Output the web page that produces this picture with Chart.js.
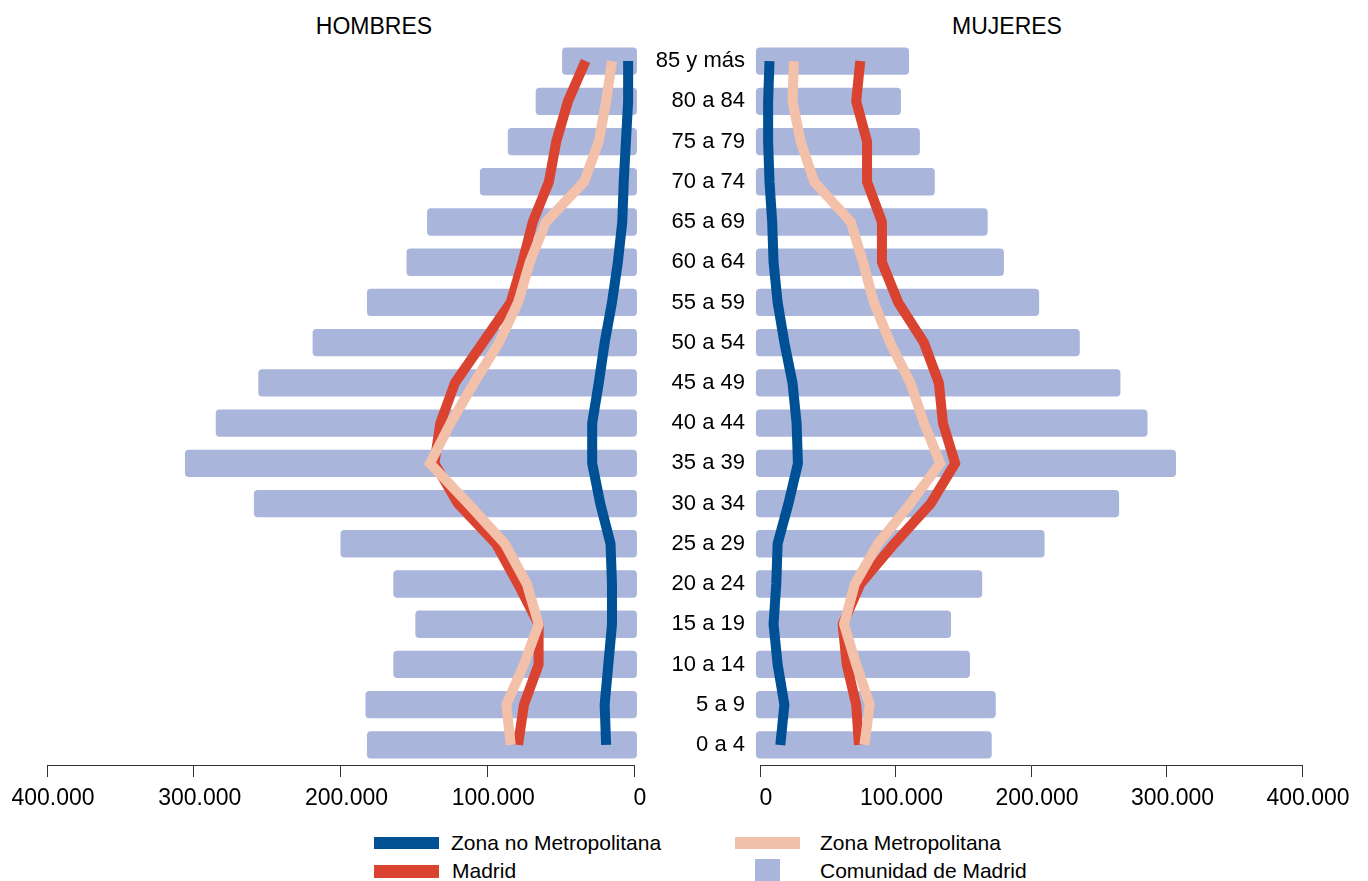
<!DOCTYPE html>
<html>
<head>
<meta charset="utf-8">
<script src="https://cdn.jsdelivr.net/npm/chart.js@4.4.1/dist/chart.umd.min.js"></script>
<style>
  html, body { margin: 0; padding: 0; background: #fff; }
  body { width: 1368px; height: 881px; position: relative; overflow: hidden;
         font-family: "Liberation Sans", Arial, sans-serif; color: #000; }
  .box { position: absolute; top: 0; height: 830px; }
  .title { position: absolute; top: 13px; font-size: 23px; transform: translateX(-50%); }
  .sw { position: absolute; }
  .lg { position: absolute; font-size: 21px; line-height: 24px; }
</style>
</head>
<body>
<div class="title" style="left:374px">HOMBRES</div>
<div class="title" style="left:1007px">MUJERES</div>

<div class="box" style="left:0; width:680px"><canvas id="men"></canvas></div>
<div class="box" style="left:640px; width:728px"><canvas id="women"></canvas></div>

<div class="sw" style="left:374px; top:837px; width:65px; height:12px; background:#005096"></div>
<div class="lg" style="left:451px; top:831px">Zona no Metropolitana</div>
<div class="sw" style="left:374px; top:865px; width:65px; height:13px; background:#d9432f"></div>
<div class="lg" style="left:452px; top:859px">Madrid</div>
<div class="sw" style="left:735px; top:837px; width:65px; height:12px; background:#f3c0a9"></div>
<div class="lg" style="left:820px; top:831px">Zona Metropolitana</div>
<div class="sw" style="left:755px; top:859px; width:25px; height:22px; background:#a9b5da"></div>
<div class="lg" style="left:820px; top:859px">Comunidad de Madrid</div>

<script>
// age groups, youngest first (axis is reversed so 85+ ends on top)
const ageGroups = ['0 a 4', '5 a 9', '10 a 14', '15 a 19', '20 a 24', '25 a 29', '30 a 34',
  '35 a 39', '40 a 44', '45 a 49', '50 a 54', '55 a 59', '60 a 64', '65 a 69',
  '70 a 74', '75 a 79', '80 a 84', '85 y más'];

// Comunidad de Madrid (bars)
const menComunidad = [182000, 183000, 164000, 149000, 164000, 200000, 259000, 306000, 285000,
  256000, 219000, 182000, 155000, 141000, 105000, 86000, 67000, 49000];
const womenComunidad = [171000, 174000, 155000, 141000, 164000, 210000, 265000, 307000, 286000,
  266000, 236000, 206000, 180000, 168000, 129000, 118000, 104000, 110000];

// Zona no Metropolitana
const menNoMetro = [19000, 20000, 17500, 15000, 15000, 16000, 23000, 28500, 28500,
  24000, 20000, 15000, 11000, 8000, 7000, 5500, 4000, 4000];
const womenNoMetro = [15000, 18000, 13000, 10000, 12000, 13000, 21000, 28000, 27000,
  24000, 18000, 13000, 10000, 9000, 7000, 6000, 6000, 7000];

// Madrid (ciudad)
const menMadrid = [79000, 75000, 65000, 65000, 79000, 94000, 120000, 136000, 132000,
  122000, 103000, 84000, 76000, 69000, 58000, 53000, 45000, 33000];
const womenMadrid = [73000, 71000, 64000, 61000, 74000, 99000, 126000, 144000, 135000,
  132000, 121000, 102000, 90000, 90000, 79000, 79000, 71000, 74000];

// Zona Metropolitana
const menMetro = [84000, 87000, 75000, 65000, 73000, 88000, 113000, 139000, 125000,
  109000, 92000, 79000, 71000, 60000, 34000, 24000, 19000, 15000];
const womenMetro = [77000, 81000, 71000, 62000, 70000, 87000, 111000, 133000, 121000,
  111000, 96000, 84000, 76000, 67000, 40000, 30000, 24000, 25000];

const xTicks = [0, 100000, 200000, 300000, 400000];

const FONT = '"Liberation Sans", Arial, sans-serif';
const COL = { noMetro: '#005096', madrid: '#d9432f', metro: '#f3c0a9', bar: '#a9b5da' };

const fmtThousands = (v) => v === 0 ? '0' : String(v).replace(/\B(?=(\d{3})+(?!\d))/g, '.');

function line(data, color, order) {
  return {
    type: 'line', data, order,
    borderColor: color, backgroundColor: color,
    borderWidth: 10, pointRadius: 0, tension: 0,
    borderCapStyle: 'butt', borderJoinStyle: 'miter', clip: false,
  };
}

function pyramid(canvasId, totals, noMetro, madrid, metro, side) {
  const left = side === 'left';
  return new Chart(document.getElementById(canvasId), {
    type: 'bar',
    data: {
      labels: ageGroups,
      datasets: [
        line(noMetro, COL.noMetro, 1),
        line(metro, COL.metro, 2),
        line(madrid, COL.madrid, 3),
        {
          type: 'bar', data: totals, order: 4,
          backgroundColor: COL.bar, borderWidth: 0,
          borderRadius: 4, borderSkipped: false,
          categoryPercentage: 1, barPercentage: 0.68,
          base: left ? -2000 : -3000, clip: false,
        },
      ],
    },
    options: {
      indexAxis: 'y',
      responsive: true,
      maintainAspectRatio: false,
      animation: false,
      layout: { padding: left ? { left: 47, right: 46, top: 41, bottom: 0 }
                              : { left: 0, right: 66, top: 41, bottom: 0 } },
      plugins: { legend: { display: false }, tooltip: { enabled: false } },
      scales: {
        x: {
          type: 'linear', min: 0, max: 400000, reverse: left,
          afterBuildTicks: (s) => { s.ticks = xTicks.map((v) => ({ value: v })); },
          afterFit: (s) => { s.height = 65; },
          grid: { drawOnChartArea: false, drawTicks: true, tickLength: 12, color: '#333', lineWidth: 1 },
          border: { display: true, color: '#333', width: 1 },
          ticks: { color: '#000', font: { size: 23, family: FONT }, padding: 8, labelOffset: 6,
                   maxRotation: 0, autoSkip: false, callback: (v) => fmtThousands(v) },
        },
        y: {
          type: 'category', reverse: true, display: !left,
          afterFit: (s) => { s.width = left ? 0 : 120; },
          grid: { display: false, drawTicks: false },
          border: { display: false },
          ticks: { color: '#000', font: { size: 22, family: FONT }, padding: 15, autoSkip: false },
        },
      },
    },
  });
}

pyramid('men', menComunidad, menNoMetro, menMadrid, menMetro, 'left');
pyramid('women', womenComunidad, womenNoMetro, womenMadrid, womenMetro, 'right');
</script>
</body>
</html>
